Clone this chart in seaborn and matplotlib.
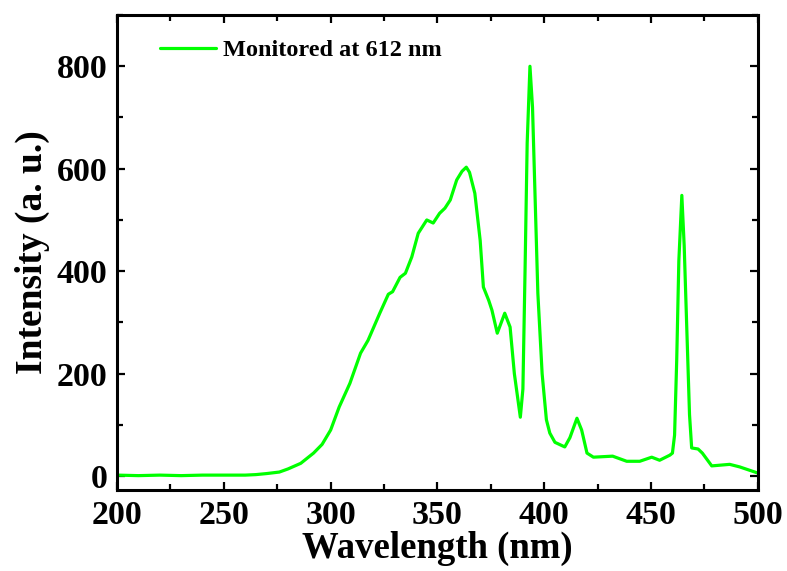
import numpy as np
import pandas as pd
import matplotlib
matplotlib.use("Agg")
import matplotlib.pyplot as plt
from matplotlib.ticker import MultipleLocator
import seaborn as sns

# Excitation spectrum
wavelength = [200, 210, 220, 230, 240, 250, 260, 265, 270, 276, 280, 286, 292, 296,
              300, 304, 309, 314, 317.5, 323, 327, 329, 332.5, 335, 338, 341, 345,
              348, 351, 353.5, 356, 359, 361.5, 363.5, 365, 367.5, 370, 371.5, 374,
              375.5, 378, 381.5, 384, 386, 388.8, 390, 391, 392, 393.3, 394.5,
              395.6, 397, 399, 401, 402.6, 405, 409.6, 412, 415.3, 417.5, 420, 423,
              432, 438.6, 444.7, 450.3, 454, 458.8, 460, 461, 462, 463, 464.4,
              465.5, 466.7, 468, 469, 472, 474, 478.4, 486.8, 491.5, 500]
intensity = [2, 1, 2, 1, 2, 2, 2, 3, 5, 8, 14, 25, 45, 62,
             90, 135, 181, 240, 265, 318, 355, 360, 388, 396, 428, 474, 500,
             494, 513, 523, 539, 578, 595, 603, 593, 552, 460, 369, 343,
             324, 279, 318, 291, 200, 115, 170, 400, 650, 800, 720,
             560, 357, 200, 110, 84, 66, 57, 75, 113, 90, 45, 37,
             39, 29, 29, 37, 31, 41, 45, 80, 226, 420, 548,
             450, 291, 120, 55, 53, 45, 20, 23, 18, 6]
series_label = "Monitored at 612 nm"

df = pd.DataFrame({"Wavelength": wavelength, "Intensity": intensity})

sns.set_style("ticks")
plt.rcParams["font.family"] = ["Liberation Serif", "DejaVu Serif"]
plt.rcParams["font.weight"] = "bold"
plt.rcParams["text.color"] = "black"
plt.rcParams["axes.labelcolor"] = "black"
plt.rcParams["xtick.color"] = "black"
plt.rcParams["ytick.color"] = "black"
plt.rcParams["axes.edgecolor"] = "black"

fig = plt.figure(figsize=(7.87, 5.71), dpi=100)
ax = fig.add_axes([0.1487, 0.1419, 0.8143, 0.8318])

sns.lineplot(data=df, x="Wavelength", y="Intensity", color="#00ff00",
             linewidth=2.3, label=series_label, ax=ax)

ax.set_xlim(200, 500)
ax.set_ylim(-27, 900)
ax.xaxis.set_major_locator(MultipleLocator(50))
ax.xaxis.set_minor_locator(MultipleLocator(25))
ax.yaxis.set_major_locator(MultipleLocator(200))
ax.yaxis.set_minor_locator(MultipleLocator(100))
ax.tick_params(which="both", direction="in", top=True, right=True, width=1.6,
               labelsize=24.5, pad=7, colors="black")
ax.tick_params(which="major", length=6)
ax.tick_params(which="minor", length=4)
for lab in ax.get_xticklabels() + ax.get_yticklabels():
    lab.set_fontweight("bold")
for sp in ax.spines.values():
    sp.set_linewidth(2.2)
    sp.set_color("black")
    sp.set_visible(True)

ax.set_xlabel("Wavelength (nm)", fontsize=26.5, fontweight="bold", labelpad=0)
ax.set_ylabel("Intensity (a. u.)", fontsize=27, fontweight="bold", labelpad=5)

leg = ax.legend(loc="upper left", bbox_to_anchor=(0.033, 0.995), frameon=False,
                prop={"size": 17.5, "weight": "bold"}, handlelength=2.3,
                handletextpad=0.3)

fig.savefig("out.png", dpi=100)
